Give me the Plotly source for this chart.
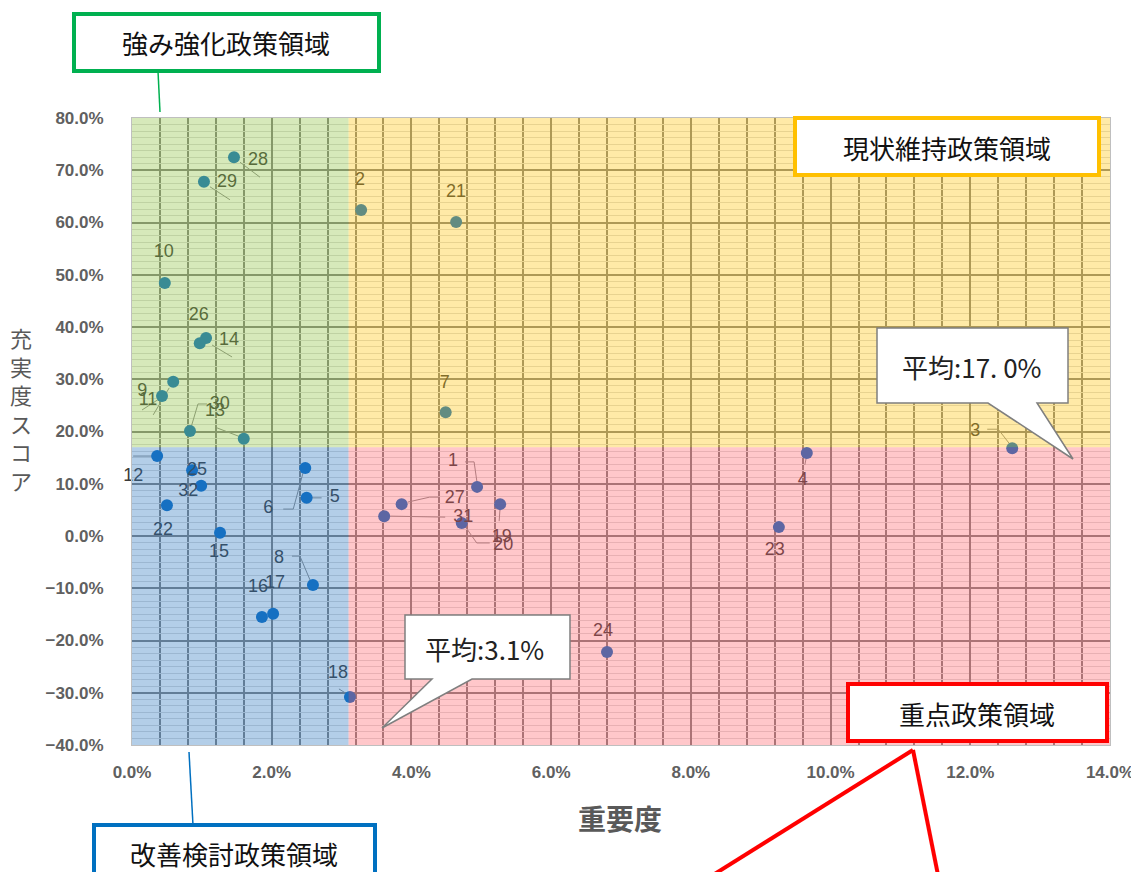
import plotly.graph_objects as go

# ---------------- data ----------------
labels = [str(i) for i in range(1, 33)]
importance = [0.0494, 0.0328, 0.1260, 0.0966, 0.0250, 0.0248, 0.0449, 0.0259,
              0.0059, 0.0047, 0.0043, 0.0036, 0.0083, 0.0106, 0.0126, 0.0186,
              0.0202, 0.0312, 0.0472, 0.0527, 0.0464, 0.0050, 0.0926, 0.0680,
              0.0086, 0.0097, 0.0386, 0.0146, 0.0103, 0.0160, 0.0361, 0.0099]
score = [0.094, 0.624, 0.168, 0.159, 0.073, 0.130, 0.237, -0.094,
         0.295, 0.484, 0.268, 0.153, 0.201, 0.379, 0.006, -0.155,
         -0.149, -0.308, 0.025, 0.061, 0.601, 0.059, 0.017, -0.222,
         0.126, 0.369, 0.061, 0.725, 0.678, 0.186, 0.038, 0.096]
avg_importance = 0.031
avg_score = 0.170
avg_importance_text = "平均:3.1%"
avg_score_text = "平均:17. 0%"
x_title = "重要度"
y_title = "充実度スコア"
region_names = ["強み強化政策領域", "現状維持政策領域", "重点政策領域", "改善検討政策領域"]

# ---------------- layout geometry ----------------
# the page adds an 8px body margin, so the figure is 8px smaller and page coords are shifted
OFF = 8
W, H = 1139 - OFF, 872 - OFF
PLOT_L, PLOT_T, PLOT_R, PLOT_B = 132, 118, 1110, 745  # page pixels of the plot area
ML, MT = PLOT_L - OFF, PLOT_T - OFF
MR, MB = W - (PLOT_R - OFF), H - (PLOT_B - OFF)
PW, PH = PLOT_R - PLOT_L, PLOT_B - PLOT_T
XR = (0.0, 0.14)
YR = (-0.4, 0.8)


def px_dx(d):
    return d / PW * (XR[1] - XR[0])


def px_dy(d):
    return -d / PH * (YR[1] - YR[0])


def pxx(p):
    return (p - PLOT_L) / PW


def pxy(p):
    return (PLOT_B - p) / PH


# label offsets (pixels) and leader polylines (pixel offsets from point)
label_off = {
    "1": (-24, -25), "2": (-1, -29), "3": (-37, -17), "4": (-4, 28), "5": (28, 0),
    "6": (-37, 40), "7": (-1, -29), "8": (-34, -27), "9": (-31, 10), "10": (-1, -31),
    "11": (-14, 5), "12": (-24, 20), "13": (25, -19), "14": (23, 3), "15": (-1, 20),
    "16": (-4, -29), "17": (2, -30), "18": (-12, -23), "19": (40, 15), "20": (3, 41),
    "21": (0, -29), "22": (-4, 25), "23": (-4, 23), "24": (-4, -20), "25": (5, 0),
    "26": (-1, -28), "27": (53, -6), "28": (24, 3), "29": (23, 1), "30": (-24, -34),
    "31": (79, 1), "32": (-13, 6),
}
leaders = {
    "28": [(6, 5), (26, 20)], "29": [(6, 5), (26, 18)], "14": [(6, 7), (26, 19)],
    "9": [(-4, 6), (-20, 33)], "11": [(-3, 3), (-20, 14)],
    "13": [(0, 0), (8, -27), (17, -27)], "30": [(-1, -1), (-27, -11)],
    "3": [(-25, -19), (-14, -19), (0, -1)], "4": [(0, 2), (-2, 12)],
    "1": [(-12, -25), (-3, -25), (0, -4)], "27": [(6, -2), (28, -7), (38, -7)],
    "31": [(6, 0), (61, 1)], "19": [(1, 0), (15, 20), (28, 20)],
    "20": [(0, 3), (-1, 17)], "18": [(-11, -8), (-3, -3)], "12": [(-24, 0), (-4, 0)],
    "6": [(-22, 41), (-12, 41), (-2, 4)], "5": [(5, 0), (15, 0)],
    "8": [(-21, -29), (-13, -29), (-2, -3)],
}

lx, ly = [], []
for lab, x, y in zip(labels, importance, score):
    for (dx, dy) in leaders.get(lab, []):
        lx.append(x + px_dx(dx))
        ly.append(y + px_dy(dy))
    lx.append(None)
    ly.append(None)

tx = [x + px_dx(label_off[l][0]) for l, x in zip(labels, importance)]
ty = [y + px_dy(label_off[l][1]) for l, y in zip(labels, score)]

fig = go.Figure()
fig.add_trace(go.Scatter(x=lx, y=ly, mode="lines", line=dict(color="#8c8c8c", width=1),
                         hoverinfo="skip", showlegend=False))
fig.add_trace(go.Scatter(x=importance, y=score, mode="markers",
                         marker=dict(color="#0a6cc4", size=12), showlegend=False,
                         text=labels))
fig.add_trace(go.Scatter(x=tx, y=ty, mode="text", text=labels, cliponaxis=False,
                         textfont=dict(family="Liberation Sans", size=18, color="#3a3a3a"),
                         hoverinfo="skip", showlegend=False))

shapes = []
# quadrant overlays (semi-transparent, above traces)
quads = [
    (XR[0], avg_importance, avg_score, YR[1], "rgba(140,195,65,0.36)"),
    (avg_importance, XR[1], avg_score, YR[1], "rgba(255,196,10,0.36)"),
    (XR[0], avg_importance, YR[0], avg_score, "rgba(45,120,192,0.36)"),
    (avg_importance, XR[1], YR[0], avg_score, "rgba(255,90,100,0.34)"),
]
for x0, x1, y0, y1, c in quads:
    shapes.append(dict(type="rect", xref="x", yref="y", x0=x0, x1=x1, y0=y0, y1=y1,
                       fillcolor=c, line=dict(width=0), layer="above"))


def path(pts):
    return "M " + " L ".join(f"{pxx(a):.5f},{pxy(b):.5f}" for a, b in pts) + " Z"


# callouts
callout1 = [(877, 328), (1068, 328), (1068, 403), (1037, 403), (1073, 459), (988, 403), (877, 403)]
callout2 = [(405, 615), (570, 615), (570, 679), (472, 679), (382, 728), (432, 679), (405, 679)]
for pts in (callout1, callout2):
    shapes.append(dict(type="path", xref="paper", yref="paper", path=path(pts),
                       fillcolor="white", line=dict(color="#7f7f7f", width=1.5), layer="above"))

# region label boxes and connectors
boxes = [
    ((74, 14, 379, 71), "#00b050", [((158, 71), (160, 112))]),
    ((795, 118, 1099, 175), "#ffc000", []),
    ((848, 684, 1107, 741), "#ff0000", [((913, 750), (705, 880)), ((913, 750), (939, 880))]),
    ((94, 825, 375, 895), "#0070c0", [((189, 752), (193, 825))]),
]
for (x0, y0, x1, y1), col, lines in boxes:
    shapes.append(dict(type="rect", xref="paper", yref="paper", x0=pxx(x0), x1=pxx(x1),
                       y0=pxy(y1), y1=pxy(y0), fillcolor="white",
                       line=dict(color=col, width=4), layer="above"))
    for (a, b) in lines:
        shapes.append(dict(type="line", xref="paper", yref="paper", x0=pxx(a[0]), y0=pxy(a[1]),
                           x1=pxx(b[0]), y1=pxy(b[1]),
                           line=dict(color=col, width=4 if col == "#ff0000" else 1.5),
                           layer="above"))

cjk = "Noto Sans CJK JP"
annotations = []
for (cx, cy), name in zip([(226, 43), (947, 147), (977, 713), (234, 853)], region_names):
    annotations.append(dict(xref="paper", yref="paper", x=pxx(cx), y=pxy(cy), text=name,
                            showarrow=False, font=dict(family=cjk, size=26, color="#111111"),
                            xanchor="center", yanchor="middle"))
annotations.append(dict(xref="paper", yref="paper", x=pxx(972), y=pxy(366), text=avg_score_text,
                        showarrow=False, xanchor="center", yanchor="middle",
                        font=dict(family=cjk, size=26, color="#222222")))
annotations.append(dict(xref="paper", yref="paper", x=pxx(484), y=pxy(648), text=avg_importance_text,
                        showarrow=False, xanchor="center", yanchor="middle",
                        font=dict(family=cjk, size=26, color="#222222")))
annotations.append(dict(xref="paper", yref="paper", x=pxx(620), y=pxy(818), text=x_title,
                        showarrow=False, xanchor="center", yanchor="middle",
                        font=dict(family=cjk, size=28, color="#595959", weight="bold")))
annotations.append(dict(xref="paper", yref="paper", x=pxx(21), y=pxy(408),
                        text="<br>".join(list(y_title)), showarrow=False,
                        font=dict(family=cjk, size=22, color="#595959"),
                        xanchor="center", yanchor="middle"))

tickfont = dict(family="Liberation Sans", size=17, color="#606060", weight="bold")
fig.update_layout(
    width=W, height=H, margin=dict(l=ML, r=MR, t=MT, b=MB, autoexpand=False),
    paper_bgcolor="white", plot_bgcolor="white",
    shapes=shapes, annotations=annotations, showlegend=False,
    xaxis=dict(range=list(XR), dtick=0.02, tick0=0, tickformat=".1%", showgrid=True,
               gridcolor="#808080", gridwidth=1.5, zeroline=False, ticks="",
               ticklabelstandoff=12, tickfont=tickfont,
               showline=True, linecolor="#bfbfbf", mirror=True,
               minor=dict(dtick=0.004, tick0=0, showgrid=True, gridcolor="#808080", gridwidth=1.5)),
    yaxis=dict(range=list(YR), dtick=0.1, tick0=0, tickformat=".1%", showgrid=True,
               gridcolor="#808080", gridwidth=1.5, zeroline=False, ticks="",
               ticklabelstandoff=24, tickfont=tickfont,
               showline=True, linecolor="#bfbfbf", mirror=True,
               minor=dict(dtick=0.0125, tick0=0, showgrid=True, gridcolor="#dcdcdc", gridwidth=1)),
)

fig.write_html("out.html")
